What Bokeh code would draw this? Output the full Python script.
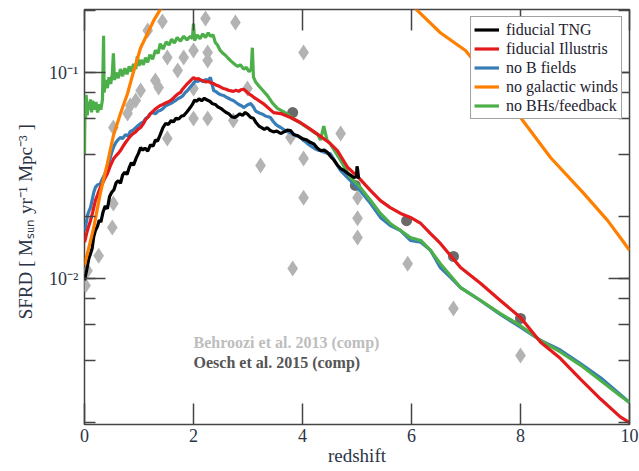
from bokeh.plotting import figure
from bokeh.models import (Range1d, LogAxis, LinearAxis, Legend, LegendItem, Label,
                          SingleIntervalTicker, LogTicker, CustomJSTickFormatter)
from bokeh.embed import file_html
from bokeh.resources import INLINE

# ---------------- data ----------------
z_tng = [0.00, 0.04, 0.08, 0.11, 0.14, 0.17, 0.20, 0.24, 0.27, 0.30, 0.34, 0.38, 0.42, 0.46, 0.50,
         0.54, 0.58, 0.62, 0.66, 0.70, 0.74, 0.78, 0.82, 0.86, 0.90, 0.95, 0.99, 1.03, 1.07, 1.11,
         1.16, 1.21, 1.26, 1.30, 1.34, 1.39, 1.44, 1.49, 1.54, 1.59, 1.63, 1.68, 1.73, 1.78, 1.82,
         1.87, 1.91, 1.94, 1.98, 2.02, 2.06, 2.10, 2.15, 2.20, 2.25, 2.30, 2.35, 2.40, 2.45, 2.50,
         2.55, 2.60, 2.65, 2.70, 2.75, 2.80, 2.85, 2.90, 2.95, 3.00, 3.05, 3.10, 3.15, 3.20, 3.25,
         3.30, 3.35, 3.41, 3.47, 3.53, 3.60, 3.66, 3.72, 3.78, 3.84, 3.90, 3.96, 4.02, 4.08, 4.15,
         4.21, 4.27, 4.33, 4.40, 4.46, 4.52, 4.58, 4.64, 4.70, 4.76, 4.82, 4.88, 4.94, 4.99, 5.00,
         5.01, 5.03]
sfrd_tng = [0.0098, 0.0110, 0.0125, 0.0132, 0.0140, 0.0160, 0.0171, 0.0180, 0.0192, 0.0188, 0.0210,
            0.0225, 0.0218, 0.0250, 0.0262, 0.0270, 0.0292, 0.0298, 0.0290, 0.0318, 0.0328, 0.0320,
            0.0345, 0.0365, 0.0355, 0.0385, 0.0405, 0.0432, 0.0420, 0.0430, 0.0415, 0.0445, 0.0440,
            0.0470, 0.0465, 0.0500, 0.0540, 0.0566, 0.0560, 0.0585, 0.0575, 0.0600, 0.0595, 0.0615,
            0.0618, 0.0640, 0.0660, 0.0676, 0.0700, 0.0735, 0.0725, 0.0745, 0.0730, 0.0750, 0.0735,
            0.0725, 0.0705, 0.0700, 0.0680, 0.0670, 0.0654, 0.0640, 0.0630, 0.0610, 0.0605, 0.0615,
            0.0630, 0.0620, 0.0640, 0.0625, 0.0605, 0.0600, 0.0570, 0.0550, 0.0540, 0.0530, 0.0540,
            0.0523, 0.0515, 0.0520, 0.0506, 0.0515, 0.0525, 0.0523, 0.0500, 0.0495, 0.0484, 0.0475,
            0.0470, 0.0457, 0.0450, 0.0430, 0.0418, 0.0420, 0.0409, 0.0390, 0.0375, 0.0355, 0.0342,
            0.0335, 0.0325, 0.0318, 0.0309, 0.0312, 0.0350, 0.0340, 0.0305]

z_ill = [0.00, 0.05, 0.11, 0.15, 0.20, 0.24, 0.29, 0.33, 0.37, 0.42, 0.47, 0.53, 0.58, 0.62, 0.66,
         0.71, 0.76, 0.80, 0.84, 0.89, 0.94, 0.98, 1.03, 1.08, 1.12, 1.17, 1.21, 1.26, 1.30, 1.35,
         1.39, 1.44, 1.49, 1.53, 1.58, 1.63, 1.67, 1.72, 1.76, 1.80, 1.85, 1.89, 1.94, 2.00, 2.04,
         2.09, 2.13, 2.18, 2.22, 2.27, 2.32, 2.37, 2.41, 2.46, 2.50, 2.55, 2.60, 2.64, 2.69, 2.73,
         2.78, 2.83, 2.87, 2.92, 2.97, 3.01, 3.06, 3.10, 3.28, 3.47, 3.60, 3.78, 3.96, 4.15, 4.33,
         4.51, 4.64, 4.83, 5.03, 5.25, 5.43, 5.61, 5.80, 5.98, 6.17, 6.35, 6.53, 6.90, 7.27, 7.63,
         8.00, 8.37, 8.73, 9.10, 9.47, 9.83, 10.0]
sfrd_ill = [0.0150, 0.0170, 0.0191, 0.0210, 0.0239, 0.0255, 0.0277, 0.0290, 0.0305, 0.0323, 0.0350,
            0.0380, 0.0395, 0.0405, 0.0418, 0.0440, 0.0460, 0.0475, 0.0490, 0.0505, 0.0515, 0.0530,
            0.0541, 0.0565, 0.0590, 0.0610, 0.0632, 0.0650, 0.0665, 0.0680, 0.0692, 0.0700, 0.0712,
            0.0720, 0.0731, 0.0750, 0.0770, 0.0790, 0.0800, 0.0830, 0.0860, 0.0884, 0.0910, 0.0946,
            0.0930, 0.0935, 0.0920, 0.0915, 0.0900, 0.0905, 0.0890, 0.0884, 0.0870, 0.0860, 0.0850,
            0.0836, 0.0830, 0.0820, 0.0815, 0.0810, 0.0820, 0.0810, 0.0825, 0.0830, 0.0810, 0.0790,
            0.0775, 0.0760, 0.0707, 0.0639, 0.0632, 0.0605, 0.0572, 0.0530, 0.0490, 0.0452, 0.0418,
            0.0346, 0.0309, 0.0267, 0.0239, 0.0221, 0.0207, 0.0198, 0.0185, 0.0165, 0.0148, 0.0113,
            0.00946, 0.00782, 0.00647, 0.0049, 0.0041, 0.00325, 0.0026, 0.00213, 0.0020]

z_nob = [0.00, 0.03, 0.06, 0.09, 0.11, 0.14, 0.17, 0.20, 0.24, 0.29, 0.33, 0.37, 0.42, 0.46, 0.50,
         0.53, 0.57, 0.61, 0.66, 0.70, 0.75, 0.80, 0.84, 0.89, 0.94, 0.98, 1.03, 1.08, 1.12, 1.17,
         1.21, 1.26, 1.30, 1.35, 1.39, 1.44, 1.49, 1.53, 1.58, 1.63, 1.68, 1.72, 1.76, 1.80, 1.85,
         1.89, 1.94, 1.99, 2.04, 2.08, 2.13, 2.18, 2.22, 2.26, 2.31, 2.34, 2.37, 2.42, 2.46, 2.50,
         2.55, 2.60, 2.64, 2.68, 2.73, 2.78, 2.83, 2.88, 2.92, 2.97, 3.01, 3.05, 3.10, 3.14, 3.19,
         3.23, 3.28, 3.32, 3.37, 3.41, 3.46, 3.51, 3.55, 3.60, 3.65, 3.69, 3.74, 3.78, 3.83, 3.87,
         3.92, 3.96, 4.01, 4.06, 4.10, 4.15, 4.20, 4.24, 4.29, 4.33, 4.38, 4.42, 4.47, 4.51, 4.70,
         4.88, 5.06, 5.25, 5.43, 5.61, 5.80, 5.98, 6.17, 6.35, 6.53, 6.72, 6.90, 7.27, 7.63, 8.00,
         8.37, 8.73, 9.10, 9.47, 10.0]
sfrd_nob = [0.0170, 0.0185, 0.0205, 0.0215, 0.0221, 0.0240, 0.0262, 0.0277, 0.0285, 0.0289, 0.0305,
            0.0320, 0.0346, 0.0375, 0.0410, 0.0432, 0.0455, 0.0470, 0.0484, 0.0478, 0.0500, 0.0492,
            0.0517, 0.0525, 0.0540, 0.0552, 0.0566, 0.0575, 0.0598, 0.0610, 0.0632, 0.0640, 0.0630,
            0.0650, 0.0654, 0.0668, 0.0690, 0.0698, 0.0707, 0.0720, 0.0735, 0.0748, 0.0756, 0.0770,
            0.0800, 0.0818, 0.0850, 0.0880, 0.0915, 0.0905, 0.0920, 0.0900, 0.0925, 0.0915, 0.0946,
            0.0880, 0.0818, 0.0805, 0.0790, 0.0780, 0.0774, 0.0760, 0.0750, 0.0740, 0.0731, 0.0715,
            0.0700, 0.0690, 0.0676, 0.0690, 0.0700, 0.0707, 0.0680, 0.0650, 0.0640, 0.0632, 0.0625,
            0.0615, 0.0610, 0.0605, 0.0580, 0.0560, 0.0550, 0.0541, 0.0530, 0.0520, 0.0515, 0.0511,
            0.0500, 0.0495, 0.0490, 0.0484, 0.0470, 0.0460, 0.0450, 0.0440, 0.0432, 0.0425, 0.0420,
            0.0418, 0.0412, 0.0408, 0.0405, 0.0404, 0.0334, 0.0299, 0.0267, 0.0231, 0.0198, 0.0181,
            0.0171, 0.0153, 0.0150, 0.0137, 0.0113, 0.0101, 0.00904, 0.0078, 0.0067, 0.0058, 0.0050,
            0.0045, 0.00387, 0.0033, 0.0025]

z_nowind = [0.00, 0.17, 0.29, 0.42, 0.53, 0.66, 0.79, 0.88, 1.03, 1.27, 1.39, 1.60, 2.00, 3.00, 4.00,
            5.00, 5.80, 6.11, 6.53, 6.99, 8.00, 8.55, 9.16, 9.60, 9.87, 10.0]
sfrd_nowind = [0.0116, 0.0177, 0.0259, 0.0362, 0.0494, 0.0632, 0.0791, 0.0967, 0.132, 0.179, 0.202,
               0.25, 0.36, 0.50, 0.45, 0.33, 0.24, 0.20, 0.156, 0.128, 0.0605, 0.0387, 0.0259,
               0.0191, 0.0153, 0.0137]

z_nobh = [0.00, 0.01, 0.02, 0.03, 0.05, 0.07, 0.09, 0.11, 0.13, 0.15, 0.18, 0.21, 0.24, 0.27, 0.30,
          0.33, 0.35, 0.36, 0.39, 0.42, 0.45, 0.48, 0.51, 0.53, 0.55, 0.58, 0.62, 0.66, 0.70, 0.74,
          0.78, 0.82, 0.86, 0.90, 0.94, 0.97, 1.00, 1.04, 1.08, 1.12, 1.16, 1.20, 1.25, 1.30, 1.35,
          1.39, 1.44, 1.50, 1.55, 1.60, 1.65, 1.70, 1.76, 1.82, 1.88, 1.94, 1.98, 2.00, 2.02, 2.07,
          2.12, 2.17, 2.22, 2.27, 2.31, 2.36, 2.40, 2.44, 2.49, 2.54, 2.59, 2.64, 2.70, 2.75, 2.81,
          2.86, 2.92, 2.97, 3.02, 3.06, 3.08, 3.10, 3.14, 3.20, 3.27, 3.36, 3.45, 3.54, 3.63, 3.72,
          3.81, 3.91, 4.00, 4.09, 4.18, 4.28, 4.33, 4.39, 4.45, 4.51, 4.70, 4.88, 5.06, 5.25, 5.43,
          5.61, 5.80, 5.98, 6.17, 6.35, 6.53, 6.90, 7.27, 7.63, 8.00, 8.37, 8.73, 9.10, 9.47, 9.83,
          10.0]
sfrd_nobh = [0.040, 0.075, 0.060, 0.078, 0.062, 0.072, 0.066, 0.074, 0.064, 0.073, 0.066, 0.072,
             0.064, 0.070, 0.066, 0.074, 0.151, 0.080, 0.092, 0.084, 0.095, 0.088, 0.098, 0.124,
             0.092, 0.100, 0.094, 0.104, 0.096, 0.105, 0.098, 0.107, 0.101, 0.110, 0.104, 0.120,
             0.108, 0.115, 0.109, 0.118, 0.112, 0.122, 0.116, 0.128, 0.124, 0.138, 0.130, 0.141,
             0.136, 0.145, 0.139, 0.148, 0.142, 0.150, 0.144, 0.150, 0.146, 0.173, 0.143, 0.152,
             0.146, 0.154, 0.148, 0.156, 0.150, 0.152, 0.140, 0.136, 0.128, 0.124, 0.121, 0.117,
             0.113, 0.110, 0.107, 0.109, 0.104, 0.106, 0.101, 0.104, 0.132, 0.095, 0.090, 0.086,
             0.082, 0.077, 0.071, 0.067, 0.065, 0.063, 0.060, 0.058, 0.056, 0.054, 0.052, 0.050,
             0.047, 0.055, 0.047, 0.045, 0.0374, 0.0309, 0.0277, 0.0239, 0.0207, 0.0185, 0.0171,
             0.0158, 0.0153, 0.0137, 0.0118, 0.00904, 0.00782, 0.00676, 0.0059, 0.0050, 0.0044,
             0.0038, 0.0032, 0.0027, 0.0025]

z_behroozi = [0.02, 0.055, 0.26, 0.51, 0.53, 0.53, 0.79, 0.84, 0.94, 1.03, 1.30, 1.36, 1.52, 1.71,
              1.16, 1.43, 2.22, 2.77, 1.82, 2.00, 2.26, 2.26, 2.00, 2.00, 2.26, 1.52, 2.73, 2.99,
              3.23, 3.78, 4.02, 4.02, 4.02, 4.70, 5.01, 5.01, 5.01, 5.93, 6.77, 8.00, 3.82]
sfrd_behroozi = [0.00925, 0.0109, 0.0129, 0.0177, 0.0231, 0.0541, 0.0632, 0.0692, 0.0731, 0.0818,
                 0.0915, 0.0846, 0.1183, 0.1022, 0.160, 0.177, 0.183, 0.175, 0.1183, 0.1279, 0.125,
                 0.1144, 0.0836, 0.0598, 0.0598, 0.0478, 0.0585, 0.0836, 0.0354, 0.0484, 0.125,
                 0.0383, 0.0247, 0.0506, 0.0247, 0.0196, 0.0158, 0.0118, 0.00715, 0.00423, 0.0112]

z_oesch = [3.82, 4.97, 5.91, 6.77, 8.00]
sfrd_oesch = [0.0639, 0.0283, 0.0191, 0.0128, 0.0064]

labels = ["fiducial TNG", "fiducial Illustris", "no B fields", "no galactic winds", "no BHs/feedback"]
colors = ["#000000", "#e41a1c", "#377eb8", "#ff7f00", "#4daf4a"]

FONT = "Liberation Serif"
TXT = "#2b3445"

# ---------------- figure ----------------
p = figure(width=639, height=471, y_axis_type="log",
           x_range=Range1d(0, 10), y_range=Range1d(0.001956, 0.2023),
           output_backend="svg", toolbar_location=None,
           min_border_left=84, min_border_right=10, min_border_top=9, min_border_bottom=47)
p.xgrid.visible = False
p.ygrid.visible = False
p.outline_line_color = "#444444"
p.outline_line_width = 1.5
p.background_fill_color = "white"
p.border_fill_color = "white"

# data points (below curves)
p.scatter(z_behroozi, sfrd_behroozi, marker="diamond", size=16, color="#b3b3b3", line_color=None)
p.scatter(z_oesch, sfrd_oesch, marker="circle", size=11, color="#6a6a6a", line_color=None)

r_nob = p.line(z_nob, sfrd_nob, line_color=colors[2], line_width=3.2)
r_nobh = p.line(z_nobh, sfrd_nobh, line_color=colors[4], line_width=3.2)
r_ill = p.line(z_ill, sfrd_ill, line_color=colors[1], line_width=3.2)
r_tng = p.line(z_tng, sfrd_tng, line_color=colors[0], line_width=3.2)
r_wind = p.line(z_nowind, sfrd_nowind, line_color=colors[3], line_width=3.2)

# axes styling
def style(ax, labels_on):
    ax.axis_line_color = None
    ax.major_tick_in = 21
    ax.major_tick_out = 0
    ax.minor_tick_in = 11
    ax.minor_tick_out = 0
    ax.major_tick_line_color = "#444444"
    ax.minor_tick_line_color = "#444444"
    ax.major_tick_line_width = 1.5
    ax.minor_tick_line_width = 1.5
    if labels_on:
        ax.major_label_text_font = FONT
        ax.major_label_text_font_size = "18px"
        ax.major_label_text_color = TXT
        ax.axis_label_text_font = FONT
        ax.axis_label_text_font_size = "19px"
        ax.axis_label_text_font_style = "normal"
        ax.axis_label_text_color = TXT
    else:
        ax.major_label_text_font_size = "1px"
        ax.major_label_text_alpha = 0.0
        ax.major_label_standoff = 0

xb = p.xaxis[0]
style(xb, True)
xb.ticker = SingleIntervalTicker(interval=2, num_minor_ticks=0)
xb.minor_tick_line_color = None
xb.axis_label = "redshift"
xb.major_label_standoff = 4
xb.axis_label_standoff = 0

yl = p.yaxis[0]
style(yl, True)
yl.ticker = LogTicker()
yl.formatter = CustomJSTickFormatter(code="""
const e = Math.round(Math.log10(tick));
const sup = {"-1": "\u207b\u00b9", "-2": "\u207b\u00b2", "-3": "\u207b\u00b3", "0": "\u2070"};
return "10" + sup[String(e)];
""")
yl.axis_label = "SFRD [ M\u209b\u1d64\u2099  yr\u207b\u00b9  Mpc\u207b\u00b3 ]"
yl.major_label_standoff = 6
yl.axis_label_standoff = 10

xt = LinearAxis(ticker=SingleIntervalTicker(interval=2, num_minor_ticks=0))
style(xt, False)
xt.minor_tick_line_color = None
p.add_layout(xt, "above")

yr = LogAxis(ticker=LogTicker())
style(yr, False)
p.add_layout(yr, "right")

# legend
legend = Legend(items=[
    LegendItem(label=labels[0], renderers=[r_tng]),
    LegendItem(label=labels[1], renderers=[r_ill]),
    LegendItem(label=labels[2], renderers=[r_nob]),
    LegendItem(label=labels[3], renderers=[r_wind]),
    LegendItem(label=labels[4], renderers=[r_nobh]),
], location="top_right")
legend.margin = 7
legend.padding = 3
legend.spacing = 0
legend.glyph_width = 25
legend.glyph_height = 19
legend.label_height = 19
legend.label_standoff = 7
legend.label_text_font = FONT
legend.label_text_font_size = "16px"
legend.label_text_color = "#1e2230"
legend.border_line_color = "#444444"
legend.border_line_width = 1.5
legend.background_fill_color = "white"
legend.background_fill_alpha = 1.0
p.add_layout(legend)

# annotations
p.add_layout(Label(x=2.0, y=0.00489, text="Behroozi et al. 2013 (comp)", text_font=FONT,
                   text_font_style="bold", text_font_size="16px", text_color="#bdbdbd",
                   text_baseline="middle"))
p.add_layout(Label(x=2.0, y=0.00391, text="Oesch et al. 2015 (comp)", text_font=FONT,
                   text_font_style="bold", text_font_size="16px", text_color="#555555",
                   text_baseline="middle"))

open("out.html", "w").write(file_html(p, INLINE))
